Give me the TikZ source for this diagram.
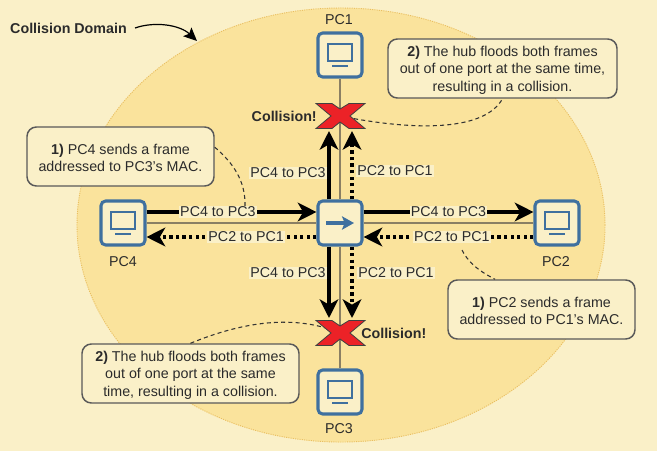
\documentclass[tikz,border=0pt]{standalone}
\usepackage{fontspec}
\setmainfont{Liberation Sans}
\usetikzlibrary{arrows.meta,calc}
\definecolor{bgc}{HTML}{FAF0C8}
\definecolor{domc}{HTML}{FAE39C}
\definecolor{domedge}{HTML}{E8BE62}
\definecolor{blu}{HTML}{3F709F}
\definecolor{wire}{HTML}{8A7F63}
\definecolor{txt}{HTML}{2B2B2B}
\definecolor{xred}{HTML}{EC2227}
\newcommand{\firstline}{\rule{0pt}{10pt}}
\tikzset{
  px/.style={x=0.75pt,y=-0.75pt},
  lab/.style={font=\fontsize{10.7pt}{13pt}\selectfont,text=txt},
  blab/.style={font=\bfseries\fontsize{10.7pt}{13pt}\selectfont,text=txt,inner sep=0pt},
  device/.style={draw=blu,fill=bgc,line width=2.3pt,rounded corners=3.5pt,minimum width=33pt,minimum height=33pt,inner sep=0pt},
  callout/.style={draw=black!65,fill=bgc,line width=1.1pt,rounded corners=7pt,align=center,inner sep=0pt,font=\fontsize{10.7pt}{13pt}\selectfont,text=txt},
  wireline/.style={draw=wire,line width=1.7pt},
  solidarrow/.style={draw=black,line width=2.6pt,-{Stealth[length=14pt,width=14pt,inset=4pt]}},
  dotarrow/.style={draw=black,line width=2.6pt,dash pattern=on 2.5pt off 2.4pt,-{Stealth[length=14pt,width=14pt,inset=4pt]}},
  flow/.style={lab,fill=bgc,inner sep=0.8pt},
  leader/.style={draw=black!80,line width=0.8pt,dash pattern=on 3pt off 2.4pt},
  xmark/.pic={\fill[xred,draw=black!75,line width=0.6pt,line join=miter]
      (-24,-12.5)--(-8,-12.5)--(0,-7)--(9,-12.5)--(25,-12.5)--(10,0)--(25,12.5)--(9,12.5)--(0,6)--(-8,12.5)--(-24,12.5)--(-9,0)--cycle;},
  monitor/.pic={\draw[blu,line width=1.2pt] (-12,-11) rectangle (12,6);
      \draw[blu,line width=1.4pt] (-8,11)--(8,11);},
}
\begin{document}
\begin{tikzpicture}[px]
\useasboundingbox (0,0) rectangle (657,451);
\fill[bgc] (0,0) rectangle (657,451);
\draw[domc,fill=domc] (341,225) ellipse [x radius=264,y radius=217];
\draw[domedge,line width=0.7pt,densely dotted] (341,225) ellipse [x radius=264,y radius=217];

% callouts
\node[callout,minimum width=171.75pt,minimum height=44.25pt] (noteA) at (502.5,68.5) {\firstline\textbf{2)} The hub floods both frames\\out of one port at the same time,\\resulting in a collision.};
\node[callout,minimum width=140.25pt,minimum height=44.25pt] (noteB) at (120.5,156.5) {\firstline\textbf{1)} PC4 sends a frame\\addressed to PC3's MAC.};
\node[callout,minimum width=140.25pt,minimum height=44.25pt] (noteC) at (541.5,309.5) {\firstline\textbf{1)} PC2 sends a frame\\addressed to PC1's MAC.};
\node[callout,minimum width=162.75pt,minimum height=44.25pt] (noteD) at (190.5,373.5) {\firstline\textbf{2)} The hub floods both frames\\out of one port at the same\\time, resulting in a collision.};

% devices
\node[device] (pc1) at (340,55) {};
\node[device] (pc2) at (557,223) {};
\node[device] (pc3) at (340,392) {};
\node[device] (pc4) at (123,223) {};
\node[device] (hub) at (340,223) {};
\pic at (pc1) {monitor};
\pic at (pc2) {monitor};
\pic at (pc3) {monitor};
\pic at (pc4) {monitor};
\draw[blu,line width=2.3pt,-{Stealth[length=9pt,width=10pt,inset=2pt]}] ([xshift=-10.5pt]hub.center) -- ([xshift=10.5pt]hub.center);

\node[lab] (tpc1) at (339,20) {PC1};
\node[lab] (tpc2) at (556,262) {PC2};
\node[lab] (tpc3) at (339,429) {PC3};
\node[lab] (tpc4) at (123,262) {PC4};

% collision points
\coordinate (xtop) at (340,116);
\coordinate (xbot) at (340,333);
\coordinate (tipTL) at (329,131);
\coordinate (tipTR) at (352,131);
\coordinate (tipBL) at (329,318);
\coordinate (tipBR) at (352,318);

% title
\node[blab] (title) at (68.5,28) {Collision Domain};
\coordinate (domain) at (197,41);
\draw[black,line width=0.9pt,-{Stealth[length=10pt,width=9pt,inset=2pt]}] ([xshift=6pt]title.east) .. controls (155,21) and (180,25) .. (domain);

% leaders
\draw[leader] (xtop) .. controls (420,132) and (485,130) .. (noteA.south);
\draw[leader] ([yshift=7pt]noteB.east) .. controls (232,162) and (246,180) .. (245,207);
\draw[leader] (462,250) .. controls (470,266) and (485,274) .. (noteC.north -| 495,0);
\draw[leader] (noteD.north) .. controls (235,325) and (290,312) .. (xbot);

% wires
\foreach \d in {pc1,pc2,pc3,pc4}{
  \draw[wireline] (\d) -- (hub);
}

% frames
\draw[solidarrow] ([yshift=8.25pt]pc4.east) -- ([yshift=8.25pt]hub.west)
  node[flow,pos=0.42] (f1) {PC4 to PC3};
\draw[solidarrow] ([yshift=8.25pt]hub.east) -- ([yshift=8.25pt]pc2.west)
  node[flow,pos=0.5] (f2) {PC4 to PC3};
\draw[dotarrow] ([yshift=-10.5pt]hub.west) -- ([yshift=-10.5pt]pc4.east)
  node[flow,pos=0.414] (f3) {PC2 to PC1};
\draw[dotarrow] ([yshift=-10.5pt]pc2.west) -- ([yshift=-10.5pt]hub.east)
  node[flow,pos=0.48] (f4) {PC2 to PC1};
\draw[solidarrow] (hub.north -| tipTL) -- (tipTL);
\draw[dotarrow] (hub.north -| tipTR) -- (tipTR);
\draw[solidarrow] (hub.south -| tipBL) -- (tipBL);
\draw[dotarrow] (hub.south -| tipBR) -- (tipBR);
\node[flow,anchor=east] (f5) at (327,173) {PC4 to PC3};
\node[flow,anchor=west] (f6) at (356,171) {PC2 to PC1};
\node[flow,anchor=east] (f7) at (327,273) {PC4 to PC3};
\node[flow,anchor=west] (f8) at (357,273) {PC2 to PC1};

% x marks
\pic at (xtop) {xmark};
\pic at (xbot) {xmark};
\node[blab,anchor=east] (col1) at (317,116) {Collision!};
\node[blab,anchor=west] (col2) at (361,333) {Collision!};
\end{tikzpicture}
\end{document}
